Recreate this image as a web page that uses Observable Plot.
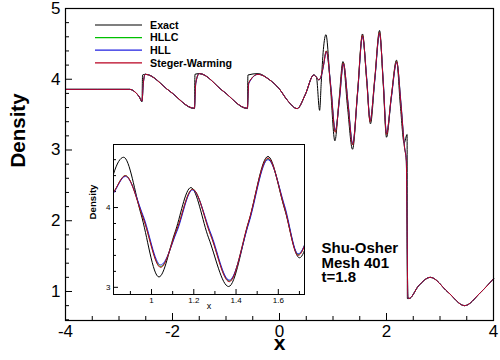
<!DOCTYPE html>
<html><head><meta charset="utf-8">
<script src="https://cdn.jsdelivr.net/npm/d3@7"></script>
<script src="https://cdn.jsdelivr.net/npm/@observablehq/plot@0.6"></script>
<style>
html,body{margin:0;padding:0;background:#fff;}
#wrap{position:relative;width:500px;height:360px;font-family:"Liberation Sans",Arial,sans-serif;}
#wrap svg{overflow:visible}
#inset{position:absolute;left:83px;top:140px;}
#legend{position:absolute;left:0;top:0;}
</style></head><body>
<div id="wrap"><div id="main"></div><div id="inset"></div><svg id="legend" width="260" height="80"></svg></div>
<script>
// ---- data ----
const xExact = [-4, -2.80, -2.70, -2.62, -2.57, -2.56, -2.50, -2.05, -1.59, -1.58, -1.50, -1.05, -0.60, -0.59, -0.40, -0.20, 0.00, 0.15, 0.33, 0.48, 0.64, 0.69, 0.75, 0.78, 0.82, 0.868, 0.95, 1.035, 1.11, 1.186, 1.27, 1.365, 1.46, 1.551, 1.63, 1.70, 1.78, 1.87, 1.94, 2.00, 2.09, 2.187, 2.26, 2.33, 2.385, 2.39, 2.42, 2.60, 2.82, 3.15, 3.46, 3.75, 4.0];
const yExact = [3.857, 3.857, 3.82, 3.75, 3.68, 4.06, 4.07, 3.83, 3.585, 4.07, 4.08, 3.83, 3.585, 4.06, 4.08, 4.00, 3.86, 3.70, 3.585, 3.78, 4.06, 4.03, 3.56, 3.95, 4.42, 4.63, 3.92, 3.13, 3.68, 4.25, 3.62, 3.01, 3.82, 4.64, 3.98, 3.37, 3.98, 4.69, 3.92, 3.18, 3.75, 4.27, 3.62, 3.10, 3.22, 0.90, 0.90, 1.08, 1.20, 0.99, 0.80, 0.98, 1.18];

const xNum = [-4, -2.80, -2.70, -2.62, -2.57, -2.545, -2.51, -2.05, -1.59, -1.565, -1.50, -1.05, -0.60, -0.575, -0.40, -0.20, 0.00, 0.15, 0.33, 0.48, 0.64, 0.70, 0.735, 0.78, 0.82, 0.876, 0.96, 1.043, 1.12, 1.194, 1.28, 1.368, 1.46, 1.551, 1.63, 1.694, 1.78, 1.87, 1.94, 2.00, 2.09, 2.19, 2.27, 2.336, 2.37, 2.40, 2.42, 2.60, 2.82, 3.15, 3.46, 3.75, 4.0];
const yHLLC = [3.857, 3.857, 3.82, 3.75, 3.69, 3.95, 4.07, 3.83, 3.59, 3.95, 4.08, 3.83, 3.59, 3.95, 4.07, 4.00, 3.86, 3.70, 3.585, 3.78, 4.06, 4.02, 3.99, 4.05, 4.19, 4.40, 3.88, 3.26, 3.72, 4.23, 3.66, 3.08, 3.82, 4.61, 4.0, 3.41, 4.0, 4.65, 3.95, 3.23, 3.75, 4.25, 3.65, 3.04, 2.85, 0.92, 0.90, 1.08, 1.20, 0.99, 0.80, 0.98, 1.18];
const yHLL  = [3.857, 3.857, 3.82, 3.75, 3.69, 3.94, 4.07, 3.83, 3.59, 3.94, 4.08, 3.83, 3.59, 3.94, 4.07, 4.00, 3.86, 3.70, 3.585, 3.78, 4.06, 4.02, 3.99, 4.04, 4.18, 4.39, 3.90, 3.28, 3.70, 4.22, 3.68, 3.09, 3.80, 4.60, 4.02, 3.42, 3.98, 4.64, 3.97, 3.24, 3.73, 4.24, 3.67, 3.05, 2.86, 0.92, 0.90, 1.08, 1.20, 0.99, 0.80, 0.98, 1.18];
const ySW   = [3.857, 3.857, 3.82, 3.75, 3.69, 3.95, 4.07, 3.83, 3.59, 3.95, 4.08, 3.83, 3.59, 3.95, 4.07, 4.00, 3.86, 3.70, 3.585, 3.78, 4.06, 4.02, 3.99, 4.05, 4.19, 4.40, 3.87, 3.25, 3.73, 4.23, 3.65, 3.07, 3.83, 4.62, 3.99, 3.40, 4.01, 4.66, 3.94, 3.22, 3.76, 4.25, 3.64, 3.04, 2.85, 0.92, 0.90, 1.08, 1.20, 0.99, 0.80, 0.98, 1.18];

const seriesNames = ["Exact", "HLLC", "HLL", "Steger-Warming"];
const seriesColors = ["#000000", "#00c000", "#2020e0", "#b80020"];
const annotation = ["Shu-Osher", "Mesh 401", "t=1.8"];

const xMajorMain = [-4, -2, 0, 2, 4];
const xMinorMain = [-3.5, -3, -2.5, -1.5, -1, -0.5, 0.5, 1, 1.5, 2.5, 3, 3.5];
const yMajorMain = [1, 2, 3, 4, 5];
const yMinorMain = [0.6, 0.8, 1.2, 1.4, 1.6, 1.8, 2.2, 2.4, 2.6, 2.8, 3.2, 3.4, 3.6, 3.8, 4.2, 4.4, 4.6, 4.8];
const xMajorInset = [1, 1.2, 1.4, 1.6];
const xMinorInset = [0.9, 1.1, 1.3, 1.5, 1.7];
const yMajorInset = [3, 4];
const yMinorInset = [3.2, 3.4, 3.6, 3.8, 4.2, 4.4, 4.6];

// ---- build tables ----
const exact = xExact.map((x, i) => ({x, y: yExact[i]}));
const numeric = [yHLLC, yHLL, ySW].map(ys => xNum.map((x, i) => ({x, y: ys[i]})));
const allSeries = [exact, ...numeric];

const font = "'Liberation Sans', Arial, sans-serif";
function lineMarks(clip) {
  return allSeries.map((data, k) => Plot.line(data, {x: "x", y: "y", stroke: seriesColors[k], strokeWidth: 1, curve: "monotone-x", clip}));
}

const MW = 500, MH = 360, ML = 65, MR = 7, MT = 8, MB = 40;
const fw = MW - ML - MR, fh = MH - MT - MB;
const main = Plot.plot({
  width: MW, height: MH, marginLeft: ML, marginRight: MR, marginTop: MT, marginBottom: MB,
  style: {fontFamily: font, background: "white", overflow: "visible", color: "black"},
  x: {domain: [-4, 4]},
  y: {domain: [0.59, 5]},
  marks: [
    Plot.tickX(xMinorMain, {x: d => d, insetTop: fh - 4}),
    Plot.tickX(xMajorMain, {x: d => d, insetTop: fh - 7}),
    Plot.tickY(yMinorMain, {y: d => d, insetRight: fw - 4}),
    Plot.tickY(yMajorMain, {y: d => d, insetRight: fw - 7}),
    Plot.axisX(xMajorMain, {tickSize: 0, tickPadding: 4, fontSize: 17, tickFormat: d => String(d), label: null}),
    Plot.axisY(yMajorMain, {tickSize: 0, tickPadding: 5, fontSize: 17, tickFormat: d => String(d), label: null}),
    ...lineMarks(false),
    Plot.frame({stroke: "black", strokeWidth: 1.2}),
    Plot.text(["Density"], {frameAnchor: "left", dx: -47, dy: 3, rotate: -90, fontSize: 20.5, fontWeight: "bold"}),
    Plot.text(["x"], {frameAnchor: "bottom", dy: 29, fontSize: 21, fontWeight: "bold"}),
    Plot.text([annotation.join("\n")], {frameAnchor: "top-left", dx: 256, dy: 234.5, textAnchor: "start", lineAnchor: "top", fontSize: 15, fontWeight: "bold", lineHeight: 0.97})
  ]
});
document.getElementById("main").appendChild(main);

const IW = 223, IH = 174, IL = 30, IR = 2, IT = 4, IB = 20;
const iw = IW - IL - IR, ih = IH - IT - IB;
const inset = Plot.plot({
  width: IW, height: IH, marginLeft: IL, marginRight: IR, marginTop: IT, marginBottom: IB,
  style: {fontFamily: font, background: "transparent", overflow: "visible", color: "black"},
  x: {domain: [0.82, 1.724]},
  y: {domain: [2.91, 4.79]},
  marks: [
    Plot.frame({fill: "white", stroke: "none"}),
    Plot.tickX(xMinorInset, {x: d => d, insetTop: ih - 3}),
    Plot.tickX(xMajorInset, {x: d => d, insetTop: ih - 5}),
    Plot.tickY(yMinorInset, {y: d => d, insetRight: iw - 3}),
    Plot.tickY(yMajorInset, {y: d => d, insetRight: iw - 5}),
    Plot.axisX(xMajorInset, {tickSize: 0, tickPadding: 3, fontSize: 8, tickFormat: d => String(d), label: null}),
    Plot.axisY(yMajorInset, {tickSize: 0, tickPadding: 3, fontSize: 8, tickFormat: d => String(d), label: null}),
    ...lineMarks(true),
    Plot.frame({stroke: "black", strokeWidth: 1}),
    Plot.text(["Density"], {frameAnchor: "left", dx: -21, rotate: -90, fontSize: 9.7, fontWeight: "bold"}),
    Plot.text(["x"], {frameAnchor: "bottom", dy: 14, fontSize: 9})
  ]
});
document.getElementById("inset").appendChild(inset);

// ---- legend ----
const leg = d3.select("#legend");
seriesNames.forEach((n, i) => {
  const y = 25 + i * 12.6;
  leg.append("line").attr("x1", 95).attr("x2", 142).attr("y1", y).attr("y2", y)
    .attr("stroke", seriesColors[i]).attr("stroke-width", 1.2);
  leg.append("text").attr("x", 150).attr("y", y).attr("dy", "0.35em")
    .attr("font-family", font).attr("font-size", 10.7).attr("font-weight", "bold").text(n);
});
</script>
</body></html>
